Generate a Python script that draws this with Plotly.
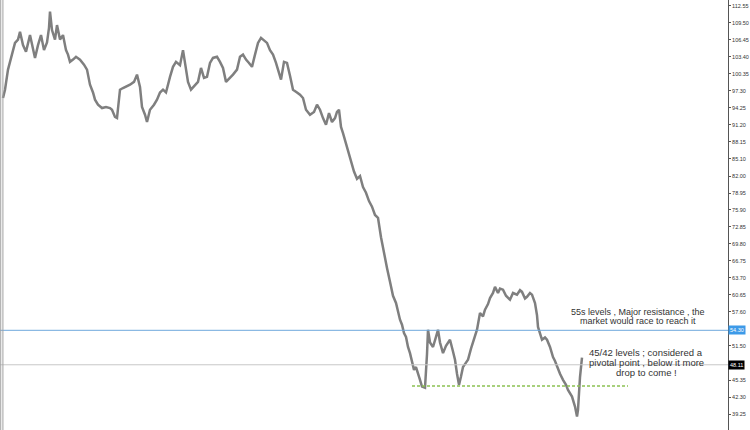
import plotly.graph_objects as go

# bar number (one bar per pixel column in the source chart) and price
bars = [3, 5, 8, 12, 15, 18, 20, 23, 26, 30, 33, 35, 38, 41, 44, 47, 49, 50, 52, 55,
        57, 60, 63, 66, 68, 70, 73, 76, 80, 84, 87, 90, 93, 95, 98, 102, 106, 110, 112, 115,
        117, 120, 123, 127, 130, 134, 137, 140, 142, 145, 147, 150, 154, 157, 160, 163, 166, 170, 173, 176,
        180, 183, 186, 188, 191, 195, 198, 201, 204, 207, 210, 213, 217, 220, 223, 226, 230, 233, 237, 240,
        243, 246, 249, 252, 255, 258, 261, 264, 267, 270, 273, 276, 279, 281, 284, 287, 290, 293, 297, 300,
        303, 306, 310, 314, 317, 320, 323, 326, 329, 332, 335, 337, 339, 341, 343, 345, 348, 351, 354, 357,
        360, 363, 366, 369, 372, 375, 378, 381, 384, 387, 390, 393, 396, 398, 400, 402, 404, 406, 408, 410,
        412, 414, 416, 418, 420, 422, 425, 427, 428, 430, 433, 436, 438, 440, 443, 446, 450, 453, 455, 457,
        459, 461, 463, 466, 468, 471, 473, 475, 477, 480, 483, 485, 488, 490, 493, 495, 498, 500, 503, 506,
        510, 513, 517, 520, 522, 525, 527, 530, 532, 535, 537, 538, 540, 542, 545, 547, 550, 553, 555, 558,
        560, 563, 566, 568, 570, 572, 575, 577, 578, 580, 582]
price = [96.0, 97.5, 101.1, 103.8, 105.9, 106.5, 107.9, 105.5, 104.3, 107.3, 105.0, 103.2, 105.5, 107.3, 104.6, 106.0, 108.6, 111.5, 108.2, 106.5,
         109.1, 106.5, 107.3, 104.6, 103.8, 102.5, 102.9, 103.4, 102.9, 102.0, 101.1, 98.4, 97.0, 95.7, 94.8, 94.2, 94.4, 94.2, 93.9, 92.6,
         92.4, 97.5, 97.8, 98.1, 98.4, 98.9, 100.2, 98.0, 94.4, 93.0, 91.7, 93.9, 94.8, 95.7, 97.0, 97.5, 97.0, 99.8, 101.6, 102.5,
         101.9, 104.6, 101.6, 98.9, 97.5, 98.4, 98.9, 101.4, 99.6, 99.8, 102.3, 103.2, 103.4, 102.5, 101.4, 98.9, 99.6, 100.2, 101.1, 103.4,
         103.8, 102.9, 102.3, 101.6, 103.8, 105.9, 106.8, 106.4, 105.9, 104.6, 103.8, 102.3, 100.5, 99.3, 102.5, 102.3, 100.0, 97.5, 97.0, 96.6,
         96.0, 93.9, 93.0, 93.5, 94.8, 93.9, 92.4, 91.2, 93.3, 91.7, 92.4, 93.5, 93.9, 90.8, 89.7, 88.5, 86.7, 84.5, 82.8, 81.5,
         82.0, 80.0, 79.0, 77.5, 76.5, 75.0, 74.5, 71.0, 68.0, 65.5, 63.0, 60.5, 59.2, 57.4, 56.2, 55.3, 53.8, 53.1, 51.3, 50.2,
         48.4, 47.2, 47.7, 46.7, 45.4, 44.2, 44.0, 50.0, 54.4, 52.1, 51.3, 53.1, 54.4, 52.1, 50.2, 51.5, 52.6, 50.5, 49.0, 46.5,
         44.5, 46.0, 47.7, 48.5, 49.0, 51.0, 52.1, 53.5, 54.4, 57.4, 56.8, 58.0, 59.0, 60.1, 61.0, 62.1, 61.0, 61.8, 61.6, 60.5,
         59.8, 61.0, 60.7, 61.5, 61.2, 60.0, 60.3, 61.0, 60.7, 59.2, 57.0, 54.9, 53.5, 52.6, 53.0, 52.6, 51.3, 49.5, 48.8, 47.2,
         46.5, 45.4, 44.5, 43.6, 43.0, 42.4, 40.6, 38.8, 40.0, 45.9, 49.4]

tick_vals = [112.55, 109.50, 106.45, 103.40, 100.35, 97.30, 94.25, 91.20, 88.15, 85.10,
             82.00, 78.95, 75.90, 72.85, 69.80, 66.75, 63.70, 60.65, 57.60, 51.50,
             45.35, 42.30, 39.25, 36.20]
tick_text = ["%.2f" % v for v in tick_vals]

resistance = 54.30
pivot = 48.11
support = 44.3
support_bars = [412, 628]

note1 = ["55s levels , Major resistance , the", "market would race to reach it"]
note1_y = [57.6, 56.0]
note2 = ["45/42 levels ; considered a", "pivotal point , below it more", "drop to come !"]
note2_y = [50.25, 48.5, 46.8]

fig = go.Figure()

fig.add_trace(go.Scatter(x=bars, y=price, mode="lines",
                         line=dict(color="#7f7f7f", width=2.5),
                         hoverinfo="skip"))

# horizontal levels
fig.add_hline(y=resistance, line=dict(color="#6fa8dc", width=1))
fig.add_hline(y=pivot, line=dict(color="#c8c8c8", width=1))
fig.add_trace(go.Scatter(x=support_bars, y=[support, support], mode="lines",
                         line=dict(color="#8cc152", width=1.5, dash="3px,2px"),
                         hoverinfo="skip"))

# left border of the chart window
for xp in [0.001, 0.004]:
    fig.add_shape(type="line", xref="paper", yref="paper", x0=xp, x1=xp, y0=0, y1=1,
                  line=dict(color="#a0a0a0", width=1))

# price labels on the right scale
fig.add_annotation(xref="paper", x=1.0, xanchor="left", y=resistance, text="%.2f" % resistance,
                   showarrow=False, bgcolor="#3d9ae8", font=dict(color="white", size=5.5,
                   family="Liberation Sans"), borderpad=1)
fig.add_annotation(xref="paper", x=1.0, xanchor="left", y=pivot, text="%.2f" % pivot,
                   showarrow=False, bgcolor="black", font=dict(color="white", size=5.5,
                   family="Liberation Sans"), borderpad=1)

for txt, yv in zip(note1, note1_y):
    fig.add_annotation(x=638, y=yv, text=txt, showarrow=False,
                       font=dict(family="Liberation Sans", size=9, color="#333333"))
for txt, yv in zip(note2, note2_y):
    fig.add_annotation(x=646, y=yv, text=txt, showarrow=False,
                       font=dict(family="Liberation Sans", size=9.5, color="#333333"))

fig.update_layout(
    width=750, height=430,
    margin=dict(l=0, r=22, t=0, b=0),
    plot_bgcolor="white", paper_bgcolor="white",
    showlegend=False,
    xaxis=dict(range=[0, 728], visible=False),
    yaxis=dict(range=[36.4, 113.6], side="right", tickvals=tick_vals, ticktext=tick_text,
               ticks="outside", ticklen=2, tickcolor="#555555",
               showline=True, linecolor="#555555", linewidth=1,
               showgrid=False, zeroline=False, automargin=False,
               tickfont=dict(size=5.5, color="#333333", family="Liberation Sans")),
)

# the page's default body margin would push the chart 8px right and down
fig.write_html("out.html", config={"displayModeBar": False},
               post_script="document.body.style.margin='0';")
